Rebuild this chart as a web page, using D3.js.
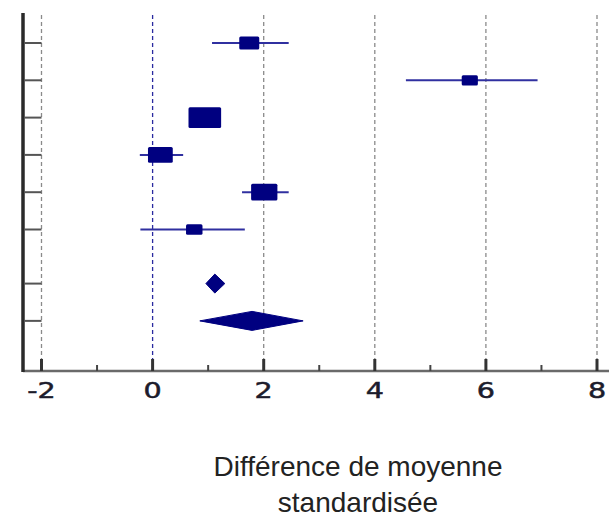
<!DOCTYPE html>
<html>
<head>
<meta charset="utf-8">
<script src="https://cdn.jsdelivr.net/npm/d3@7"></script>
<style>
  html, body { margin: 0; padding: 0; background: #fff; }
  svg { display: block; }
</style>
</head>
<body>
<svg class="forest-plot" width="609" height="517"></svg>
<script>
// rows from top to bottom: 6 studies, then two pooled estimates
const rowPos = [1, 2, 3, 4, 5, 6, 7.45, 8.45];
const estimate = [1.74, 5.71, 0.94, 0.14, 2.01, 0.75, 1.12, 1.79];
const ciLow = [1.07, 4.56, 0.72, -0.23, 1.61, -0.22, 0.96, 0.85];
const ciHigh = [2.45, 6.93, 1.16, 0.55, 2.45, 1.66, 1.30, 2.71];
const weight = [12.1, 7.9, 32.2, 18.6, 20.9, 8.2, null, null];
const isPooled = [false, false, false, false, false, false, true, true];
const xTickValue = [-2, 0, 2, 4, 6, 8];
const xMinorValue = [-1, 1, 3, 5, 7];
const titleLines = ['Différence de moyenne', 'standardisée'];

const navy = '#000080';

const data = rowPos.map((r, i) => ({
  row: r,
  est: estimate[i],
  lo: ciLow[i],
  hi: ciHigh[i],
  w: weight[i],
  pooled: isPooled[i]
}));

const chart = d3.select('.forest-plot');

const xScale = d3.scaleLinear()
  .domain([-2, 8])
  .range([41.5, 597]);

const yScale = d3.scaleLinear()
  .domain([0, 1])
  .range([5.7, 43]);

const sizeScale = d3.scaleSqrt()
  .domain([0, 1])
  .range([0, 5.75]);

const plotTop = 15;
const axisY = 371;
const axisX = 23;

/*
 ** Grid
 */
chart.append('g')
  .selectAll('line')
  .data(xTickValue)
  .enter()
  .append('line')
  .attr('x1', d => xScale(d))
  .attr('x2', d => xScale(d))
  .attr('y1', plotTop)
  .attr('y2', axisY - 1)
  .attr('stroke', d => d === 0 ? '#2a2aa0' : '#8a8a8a')
  .attr('stroke-width', 1.3)
  .attr('stroke-dasharray', '4,3');

/*
 ** Axes
 */
chart.append('line')
  .attr('x1', axisX)
  .attr('x2', 609)
  .attr('y1', axisY)
  .attr('y2', axisY)
  .attr('stroke', '#6a6a6a')
  .attr('stroke-width', 2.5);

chart.append('line')
  .attr('x1', axisX)
  .attr('x2', axisX)
  .attr('y1', 13)
  .attr('y2', axisY + 1)
  .attr('stroke', '#2a2a2a')
  .attr('stroke-width', 3.5);

chart.append('g')
  .selectAll('line')
  .data(data)
  .enter()
  .append('line')
  .attr('x1', axisX + 1)
  .attr('x2', xScale(-2))
  .attr('y1', d => yScale(d.row))
  .attr('y2', d => yScale(d.row))
  .attr('stroke', '#555')
  .attr('stroke-width', 2);

chart.append('g')
  .selectAll('line')
  .data(xTickValue)
  .enter()
  .append('line')
  .attr('x1', d => xScale(d))
  .attr('x2', d => xScale(d))
  .attr('y1', axisY)
  .attr('y2', axisY - 12)
  .attr('stroke', '#333')
  .attr('stroke-width', 3);

chart.append('g')
  .selectAll('line')
  .data(xMinorValue)
  .enter()
  .append('line')
  .attr('x1', d => xScale(d))
  .attr('x2', d => xScale(d))
  .attr('y1', axisY)
  .attr('y2', axisY - 6)
  .attr('stroke', '#444')
  .attr('stroke-width', 2);

chart.append('g')
  .selectAll('text')
  .data(xTickValue)
  .enter()
  .append('text')
  .text(d => d)
  .attr('transform', d => `translate(${xScale(d)}, 398) scale(1.3, 1)`)
  .attr('text-anchor', 'middle')
  .attr('font-family', 'DejaVu Sans, sans-serif')
  .attr('font-size', 22)
  .attr('fill', '#1c1c2c')
  .attr('stroke', '#1c1c2c')
  .attr('stroke-width', 0.5);

/*
 ** Confidence intervals and markers
 */
const studies = data.filter(d => !d.pooled);
const pooled = data.filter(d => d.pooled);

chart.append('g')
  .selectAll('line')
  .data(studies)
  .enter()
  .append('line')
  .attr('x1', d => xScale(d.lo))
  .attr('x2', d => xScale(d.hi))
  .attr('y1', d => yScale(d.row))
  .attr('y2', d => yScale(d.row))
  .attr('stroke', '#3030a0')
  .attr('stroke-width', 2);

chart.append('g')
  .selectAll('rect')
  .data(studies)
  .enter()
  .append('rect')
  .attr('x', d => xScale(d.est) - sizeScale(d.w) / 2)
  .attr('y', d => yScale(d.row) - sizeScale(d.w) * 0.64 / 2)
  .attr('width', d => sizeScale(d.w))
  .attr('height', d => sizeScale(d.w) * 0.64)
  .attr('rx', 1.5)
  .attr('fill', navy);

chart.append('g')
  .selectAll('path')
  .data(pooled)
  .enter()
  .append('path')
  .attr('d', d => {
    const cy = yScale(d.row);
    return `M${xScale(d.lo)},${cy} L${xScale(d.est)},${cy - 9.5} ` +
      `L${xScale(d.hi)},${cy} L${xScale(d.est)},${cy + 9.5} Z`;
  })
  .attr('fill', navy)
  .attr('stroke', navy)
  .attr('stroke-width', 1);

/*
 ** Title
 */
chart.append('g')
  .selectAll('text')
  .data(titleLines)
  .enter()
  .append('text')
  .text(d => d)
  .attr('x', 358)
  .attr('y', (d, i) => 476 + i * 36)
  .attr('text-anchor', 'middle')
  .attr('font-family', 'Liberation Sans, Arial, sans-serif')
  .attr('font-size', 28)
  .attr('fill', '#222');
</script>
</body>
</html>
